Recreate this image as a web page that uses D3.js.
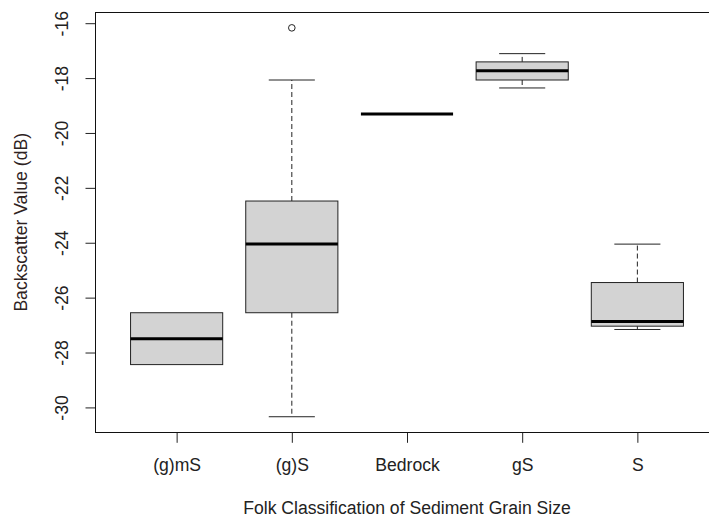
<!DOCTYPE html>
<html>
<head>
<meta charset="utf-8">
<script src="https://cdn.jsdelivr.net/npm/d3@7"></script>
<style>
  body { margin: 0; background: #fff; }
  text { font-family: 'Liberation Sans', Arial, sans-serif; }
</style>
</head>
<body>
<svg width="709" height="517"></svg>
<script>
const categories = ['(g)mS', '(g)S', 'Bedrock', 'gS', 'S'];
const lowerWhisker = [-28.44, -30.34, -19.31, -18.36, -27.16];
const q1 = [-28.44, -26.55, -19.31, -18.07, -27.04];
const median = [-27.50, -24.05, -19.31, -17.73, -26.87];
const q3 = [-26.55, -22.48, -19.31, -17.41, -25.45];
const upperWhisker = [-26.55, -18.07, -19.31, -17.11, -24.05];
const outlierCategory = ['(g)S'];
const outlierValue = [-16.17];
const yTicks = [-30, -28, -26, -24, -22, -20, -18, -16];

const svg = d3.select('svg');
const width = +svg.attr('width');
const height = +svg.attr('height');

const render = () => {
    const data = categories.map((c, i) => ({
        cat: c, idx: i + 1,
        lo: lowerWhisker[i], q1: q1[i], med: median[i], q3: q3[i], hi: upperWhisker[i]
    }));
    const outliers = outlierCategory.map((c, i) => ({ idx: categories.indexOf(c) + 1, value: outlierValue[i] }));

    const margin = { top: 12.3, bottom: 84.7, right: -9, left: 96 };
    const innerWidth = width - margin.left - margin.right;
    const innerHeight = height - margin.top - margin.bottom;

    // R style 4% padding on both axes
    const allValues = lowerWhisker.concat(upperWhisker, outlierValue);
    const [yMin, yMax] = d3.extent(allValues);
    const pad = (yMax - yMin) * 0.04;

    const xScale = d3.scaleLinear()
        .domain([0.5 - 0.2, categories.length + 0.5 + 0.2])
        .range([0, innerWidth]);

    const yScale = d3.scaleLinear()
        .domain([yMin - pad, yMax + pad])
        .range([innerHeight, 0]);

    const boxWidth = (xScale(2) - xScale(1)) * 0.8;
    const capWidth = boxWidth / 2;

    const g = svg.append('g')
        .attr('transform', `translate(${margin.left}, ${margin.top})`);

    // plain hyphen like R, not the unicode minus
    const yAxis = d3.axisLeft(yScale)
        .tickValues(yTicks)
        .tickSize(10.5)
        .tickFormat(d => String(d));

    const yAxisG = g.append('g').call(yAxis);
    yAxisG.select('.domain').remove();
    yAxisG.selectAll('.tick line').attr('stroke', '#222');
    yAxisG.selectAll('.tick text')
        .attr('x', 0).attr('y', 0).attr('dy', null)
        .attr('text-anchor', 'middle')
        .attr('transform', 'translate(-28, 0) rotate(-90)')
        .attr('fill', '#222')
        .style('font-size', '17.6px');

    const xAxis = d3.axisBottom(xScale)
        .tickValues(d3.range(1, categories.length + 1))
        .tickSize(10.5)
        .tickFormat(d => categories[d - 1]);

    const xAxisG = g.append('g')
        .attr('transform', `translate(0, ${innerHeight})`)
        .call(xAxis);
    xAxisG.select('.domain').remove();
    xAxisG.selectAll('.tick line').attr('stroke', '#222');
    xAxisG.selectAll('.tick text')
        .attr('y', 39).attr('dy', null)
        .attr('fill', '#222')
        .style('font-size', '17.6px');

    // plot frame
    g.append('rect')
        .attr('x', -0.5).attr('y', 0.2)
        .attr('width', innerWidth).attr('height', innerHeight)
        .attr('fill', 'none')
        .attr('stroke', '#111')
        .attr('stroke-width', 1);

    const boxes = g.selectAll('.box').data(data)
        .enter().append('g')
        .attr('class', 'box');

    // whiskers
    boxes.append('line')
        .attr('x1', d => xScale(d.idx)).attr('x2', d => xScale(d.idx))
        .attr('y1', d => yScale(d.q3)).attr('y2', d => yScale(d.hi))
        .attr('stroke', '#222').attr('stroke-dasharray', '5,3');
    boxes.append('line')
        .attr('x1', d => xScale(d.idx)).attr('x2', d => xScale(d.idx))
        .attr('y1', d => yScale(d.q1)).attr('y2', d => yScale(d.lo))
        .attr('stroke', '#222').attr('stroke-dasharray', '5,3');

    // caps
    boxes.filter(d => d.hi > d.q3).append('line')
        .attr('x1', d => xScale(d.idx) - capWidth / 2).attr('x2', d => xScale(d.idx) + capWidth / 2)
        .attr('y1', d => yScale(d.hi)).attr('y2', d => yScale(d.hi))
        .attr('stroke', '#222');
    boxes.filter(d => d.lo < d.q1).append('line')
        .attr('x1', d => xScale(d.idx) - capWidth / 2).attr('x2', d => xScale(d.idx) + capWidth / 2)
        .attr('y1', d => yScale(d.lo)).attr('y2', d => yScale(d.lo))
        .attr('stroke', '#222');

    // boxes
    boxes.append('rect')
        .attr('x', d => xScale(d.idx) - boxWidth / 2)
        .attr('width', boxWidth)
        .attr('y', d => yScale(d.q3))
        .attr('height', d => yScale(d.q1) - yScale(d.q3))
        .attr('fill', '#d3d3d3')
        .attr('stroke', '#222');

    // medians
    boxes.append('line')
        .attr('x1', d => xScale(d.idx) - boxWidth / 2).attr('x2', d => xScale(d.idx) + boxWidth / 2)
        .attr('y1', d => yScale(d.med)).attr('y2', d => yScale(d.med))
        .attr('stroke', '#000')
        .attr('stroke-width', 3);

    g.selectAll('.outlier').data(outliers)
        .enter().append('circle')
        .attr('class', 'outlier')
        .attr('cx', d => xScale(d.idx))
        .attr('cy', d => yScale(d.value))
        .attr('r', 3.3)
        .attr('fill', 'none')
        .attr('stroke', '#222');

    svg.append('text')
        .attr('x', margin.left + innerWidth / 2)
        .attr('y', 514)
        .attr('text-anchor', 'middle')
        .attr('fill', '#222')
        .style('font-size', '17.6px')
        .text('Folk Classification of Sediment Grain Size');

    svg.append('text')
        .attr('transform', `translate(27, ${margin.top + innerHeight / 2}) rotate(-90)`)
        .attr('text-anchor', 'middle')
        .attr('fill', '#2e2222')
        .style('font-size', '17.6px')
        .text('Backscatter Value (dB)');
};

render();
</script>
</body>
</html>
